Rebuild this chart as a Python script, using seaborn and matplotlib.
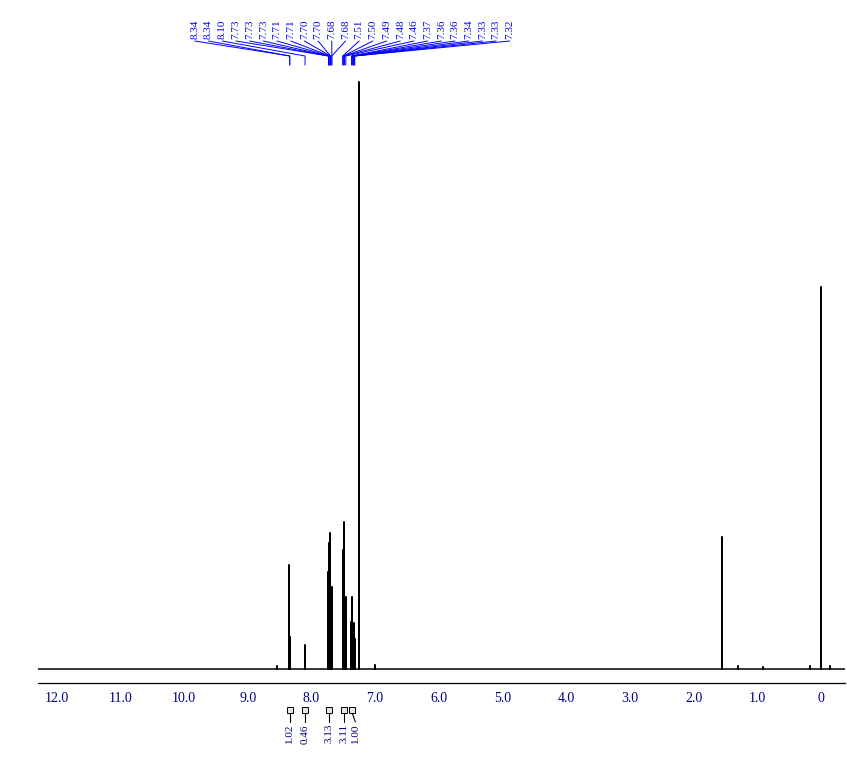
import numpy as np
import pandas as pd
import matplotlib.pyplot as plt
import matplotlib.ticker as mticker
import seaborn as sns

sns.set_style("white")
plt.rcParams['font.family'] = ['Liberation Serif', 'DejaVu Serif']

# Picos del espectro (ppm, intensidad relativa)
shifts = [8.54, 8.345, 8.338, 8.105, 8.100,
          7.734, 7.730, 7.726, 7.713, 7.709, 7.700, 7.696, 7.683, 7.679,
          7.512, 7.503, 7.492, 7.483, 7.463,
          7.372, 7.363, 7.358, 7.343, 7.332, 7.328, 7.318,
          7.260, 7.000, 1.556, 1.30, 0.92, 0.17, 0.000, -0.14]
heights = [3, 104, 32, 24, 20,
           97, 126, 110, 136, 100, 60, 50, 82, 60,
           119, 100, 109, 147, 72,
           47, 72, 60, 40, 46, 35, 30,
           587, 4, 132, 3, 2, 3, 382, 3]

# Etiquetas de picos
peak_labels = ['8.34', '8.34', '8.10', '7.73', '7.73', '7.73', '7.71', '7.71',
               '7.70', '7.70', '7.68', '7.68', '7.51', '7.50', '7.49', '7.48',
               '7.46', '7.37', '7.36', '7.36', '7.34', '7.33', '7.33', '7.32']

# Integrales
integ_vals = ['1.02', '0.46', '3.13', '3.11', '1.00']
integ_pos = [8.34, 8.10, 7.73, 7.49, 7.36]
integ_text_pos = [8.34, 8.10, 7.73, 7.49, 7.31]

x_left, x_right = 12.29, -0.372

# Construir espectro de barras (sticks)
order = np.argsort(shifts)[::-1]
xs, ys = [x_left], [0]
for i in order:
    xs += [shifts[i], shifts[i], shifts[i]]
    ys += [0, heights[i], 0]
xs.append(x_right)
ys.append(0)
df = pd.DataFrame({'ppm': xs, 'intensidad': ys})

fig = plt.figure(figsize=(8.47, 7.73), dpi=100)
ax = fig.add_axes([38 / 847, 90 / 773, 807 / 847, 683 / 773])

sns.lineplot(data=df, x='ppm', y='intensidad', sort=False, estimator=None,
             color='black', lw=1.1, ax=ax)

ax.set_xlim(x_left, x_right)
ax.set_ylim(-14, 669)
for s in ['left', 'right', 'top']:
    ax.spines[s].set_visible(False)
ax.spines['bottom'].set_color('black')
ax.spines['bottom'].set_linewidth(0.9)
ax.set_yticks([])
ax.set_xlabel('')
ax.set_ylabel('')

major = list(range(0, 13))
ax.set_xticks(major)
ax.set_xticklabels(['0' if v == 0 else f'{v:.1f}' for v in major])
ax.xaxis.set_minor_locator(mticker.MultipleLocator(0.1))
ax.tick_params(axis='x', which='major', direction='out', length=4.3, width=0.8,
               pad=2, labelsize=10, labelcolor='#000080', color='black')
ax.tick_params(axis='x', which='minor', direction='out', length=2.4, width=0.7,
               color='black')

# Etiquetas de picos arriba
label_x = np.linspace(9.83, 4.886, len(peak_labels))
for lx, lab in zip(label_x, peak_labels):
    v = float(lab)
    ax.text(lx, 630, lab, rotation=90, ha='center', va='bottom',
            color='blue', fontsize=8, clip_on=False)
    ax.plot([lx, v, v], [628, 613, 604], color='blue', lw=0.7, clip_on=False)

# Integrales abajo
for val, p, tp in zip(integ_vals, integ_pos, integ_text_pos):
    ax.plot([p, tp], [-44, -53], color='black', lw=0.8, clip_on=False)
    ax.plot([p], [-41], marker='s', ms=4, mfc='#e6e6e6', mec='black',
            mew=0.7, clip_on=False)
    ax.text(tp, -55, val, rotation=90, ha='center', va='top',
            color='#000080', fontsize=8, clip_on=False)

fig.savefig('out.png', dpi=100)
